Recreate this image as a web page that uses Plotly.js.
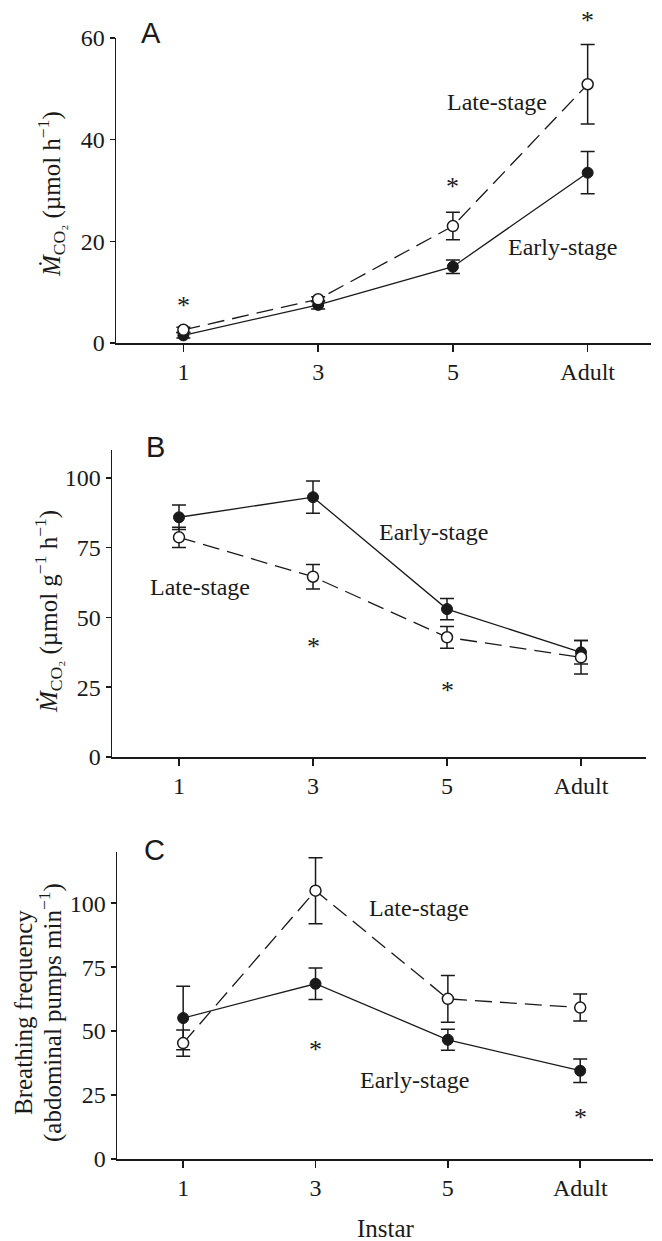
<!DOCTYPE html>
<html>
<head>
<meta charset="utf-8">
<script src="https://cdn.plot.ly/plotly-3.0.1.min.js"></script>
<style>html,body{margin:0;padding:0;background:#fff;}#chart{width:662px;height:1241px;}</style>
</head>
<body>
<div id="chart"></div>
<script>
// Categories (instar)
const instars = ["1", "3", "5", "Adult"];

// Panel A: whole-animal CO2 emission (µmol h-1)
const aEarly = [1.5, 7.5, 15.0, 33.5];
const aEarlyErr = [0.5, 0.8, 1.35, 4.15];
const aLate = [2.6, 8.6, 23.0, 50.9];
const aLateErr = [0.5, 0.5, 2.7, 7.8];

// Panel B: mass-specific CO2 emission (µmol g-1 h-1)
const bEarly = [85.9, 93.1, 53.0, 37.5];
const bEarlyErr = [4.4, 5.8, 3.8, 4.2];
const bLate = [78.7, 64.6, 42.9, 35.7];
const bLateErr = [3.6, 4.4, 3.9, 6.0];

// Panel C: breathing frequency (abdominal pumps min-1)
const cEarly = [55.1, 68.5, 46.6, 34.5];
const cEarlyErr = [12.4, 6.2, 4.1, 4.6];
const cLate = [45.3, 104.9, 62.6, 59.2];
const cLateErr = [5.1, 12.9, 9.1, 5.3];

// Significance asterisks: [category, y]
const aStars = [["1", 8.5], ["5", 32], ["Adult", 64.7]];
const bStars = [["3", 41.7], ["5", 26]];
const cStars = [["3", 45.3], ["Adult", 18.6]];

const FONT = "Liberation Serif, Times New Roman, serif";
const SANS = "Liberation Sans, Arial, sans-serif";
const INK = "#1a1a1a";

function pair(xa, ya, early, eErr, late, lErr) {
  return [
    {
      x: instars, y: early, xaxis: xa, yaxis: ya, type: "scatter", mode: "lines+markers",
      line: {color: INK, width: 1.3},
      marker: {symbol: "circle", size: 11, color: INK, line: {color: INK, width: 1}},
      error_y: {type: "data", array: eErr, visible: true, color: INK, thickness: 1.5, width: 7},
      showlegend: false, hoverinfo: "skip"
    },
    {
      x: instars, y: late, xaxis: xa, yaxis: ya, type: "scatter", mode: "lines+markers",
      line: {color: INK, width: 1.3, dash: "17px,8px"},
      marker: {symbol: "circle", size: 11, color: "#ffffff", line: {color: INK, width: 1.5}},
      error_y: {type: "data", array: lErr, visible: true, color: INK, thickness: 1.5, width: 7},
      showlegend: false, hoverinfo: "skip"
    }
  ];
}

const data = [].concat(
  pair("x", "y", aEarly, aEarlyErr, aLate, aLateErr),
  pair("x2", "y2", bEarly, bEarlyErr, bLate, bLateErr),
  pair("x3", "y3", cEarly, cEarlyErr, cLate, cLateErr)
);

const W = 662, H = 1241;
const px = v => v / W;
const py = v => 1 - v / H;

function xax(d0, d1, r1, anchor) {
  return {
    type: "category", categoryorder: "array", categoryarray: instars,
    domain: [px(d0), px(d1)], range: [-0.5, r1], anchor: anchor,
    showline: true, linecolor: INK, linewidth: 1.5, mirror: false,
    ticks: "outside", ticklen: 7, tickwidth: 1.5, tickcolor: INK,
    showgrid: false, zeroline: false, fixedrange: true,
    tickfont: {family: FONT, size: 24, color: INK}
  };
}
function yax(top, bottom, range, dtick, anchor) {
  return {
    domain: [py(bottom), py(top)], range: range, anchor: anchor,
    showline: true, linecolor: INK, linewidth: 1.5,
    ticks: "outside", ticklen: 5, tickwidth: 1.5, tickcolor: INK,
    tickmode: "linear", tick0: 0, dtick: dtick,
    showgrid: false, zeroline: false, fixedrange: true,
    tickfont: {family: FONT, size: 24, color: INK}
  };
}

const axes = {
  xaxis: xax(116, 651, 3.47, "y"),
  yaxis: yax(38, 343, [0, 60], 20, "x"),
  xaxis2: xax(112, 646, 3.485, "y2"),
  yaxis2: yax(450, 757, [0, 110], 25, "x2"),
  xaxis3: xax(117, 653, 3.55, "y3"),
  yaxis3: yax(852, 1159, [0, 120], 25, "x3")
};

// map a data position to paper coordinates (so marks above the axis range still draw)
function toPaper(ax, v) {
  const d = ax.domain, r = ax.range;
  return d[0] + (v - r[0]) / (r[1] - r[0]) * (d[1] - d[0]);
}

const annotations = [];
function star(list, xa, ya) {
  list.forEach(s => annotations.push({
    x: toPaper(xa, instars.indexOf(s[0])), y: toPaper(ya, s[1]),
    xref: "paper", yref: "paper", text: "*", showarrow: false,
    xanchor: "center", yanchor: "middle",
    font: {family: FONT, size: 26, color: INK}, yshift: -6
  }));
}
star(aStars, axes.xaxis, axes.yaxis);
star(bStars, axes.xaxis2, axes.yaxis2);
star(cStars, axes.xaxis3, axes.yaxis3);

function label(t, x, y, xr, yr) {
  annotations.push({x: x, y: y, xref: xr, yref: yr, text: t, showarrow: false,
    xanchor: "center", yanchor: "middle",
    font: {family: FONT, size: 24, color: INK}});
}
label("Late-stage", 2.33, 47.4, "x", "y");
label("Early-stage", 2.81, 18.9, "x", "y");
label("Late-stage", 0.16, 61, "x2", "y2");
label("Early-stage", 1.9, 80.7, "x2", "y2");
label("Late-stage", 1.78, 98.2, "x3", "y3");
label("Early-stage", 1.75, 31, "x3", "y3");

function paperText(t, x, y, size, family, angle) {
  annotations.push({x: px(x), y: py(y), xref: "paper", yref: "paper", text: t, showarrow: false,
    xanchor: "center", yanchor: "middle", textangle: angle || 0,
    font: {family: family, size: size, color: INK}});
}
paperText("A", 151, 33, 29, SANS);
paperText("B", 155, 447, 29, SANS);
paperText("C", 154, 850, 29, SANS);

paperText("<i>Ṁ</i><sub>CO₂</sub> (µmol h<sup>−1</sup>)", 51, 194, 25, FONT, -90);
paperText("<i>Ṁ</i><sub>CO₂</sub> (µmol g<sup>−1</sup> h<sup>−1</sup>)", 48, 612, 25, FONT, -90);
paperText("Breathing frequency", 23, 1013, 25, FONT, -90);
paperText("(abdominal pumps min<sup>−1</sup>)", 50, 1013, 25, FONT, -90);

paperText("Instar", 386, 1228, 25, FONT);

const layout = Object.assign({
  width: W, height: H,
  margin: {l: 0, r: 0, t: 0, b: 0},
  paper_bgcolor: "#ffffff", plot_bgcolor: "#ffffff",
  showlegend: false,
  annotations: annotations
}, axes);

Plotly.newPlot("chart", data, layout, {staticPlot: true, displayModeBar: false});
</script>
</body>
</html>
